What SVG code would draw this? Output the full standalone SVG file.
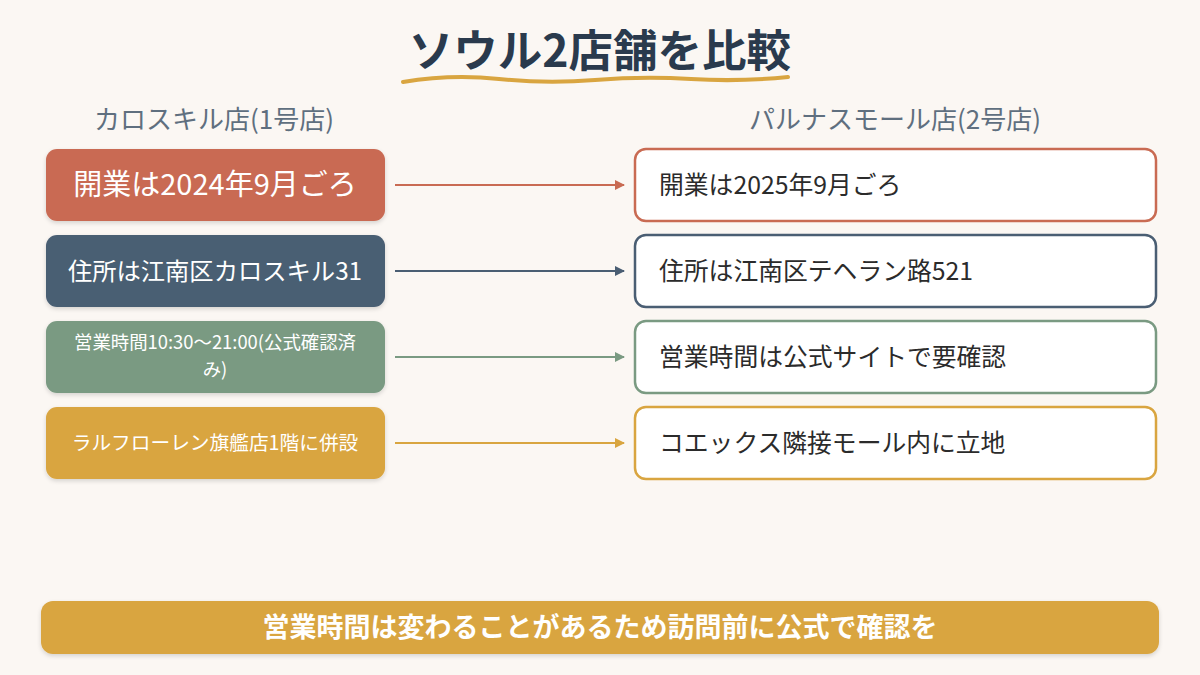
<svg xmlns="http://www.w3.org/2000/svg" width="1200" height="675" viewBox="0 0 1200 675">
<defs>
<style>
text{font-family:"Noto Sans CJK JP","Noto Sans",sans-serif}
.title{font-size:44.5px;font-weight:700;fill:#2a3a4d}
.hdr{font-size:26px;fill:#5f6f7f}
.lt{fill:#fff;text-anchor:middle}
.rt{font-size:24.8px;fill:#2b2b2b}
.rbox{fill:#fff;stroke-width:2.5}
.conn{stroke-width:2.2;fill:none}
</style>
<filter id="sh" x="-10%" y="-20%" width="120%" height="150%">
<feDropShadow dx="0" dy="2" stdDeviation="2" flood-color="#000" flood-opacity="0.15"/>
</filter>
<marker id="a1" viewBox="0 0 10 10" refX="9" refY="5" markerWidth="12" markerHeight="10" orient="auto" markerUnits="userSpaceOnUse"><path d="M0,0L10,5L0,10z" fill="#c96b53"/></marker>
<marker id="a2" viewBox="0 0 10 10" refX="9" refY="5" markerWidth="12" markerHeight="10" orient="auto" markerUnits="userSpaceOnUse"><path d="M0,0L10,5L0,10z" fill="#4a5e73"/></marker>
<marker id="a3" viewBox="0 0 10 10" refX="9" refY="5" markerWidth="12" markerHeight="10" orient="auto" markerUnits="userSpaceOnUse"><path d="M0,0L10,5L0,10z" fill="#7a9a82"/></marker>
<marker id="a4" viewBox="0 0 10 10" refX="9" refY="5" markerWidth="12" markerHeight="10" orient="auto" markerUnits="userSpaceOnUse"><path d="M0,0L10,5L0,10z" fill="#d9a540"/></marker>
</defs>
<rect width="1200" height="675" fill="#fbf7f3"/>
<g id="title">
<text class="title" x="600" y="67" text-anchor="middle">ソウル2店舗を比較</text>
<path d="M403,82 Q451,74 499,79 T595,80 T691,79 T788,77" fill="none" stroke="#d9a540" stroke-width="4" stroke-linecap="round"/>
</g>
<g id="headers">
<text class="hdr" x="214" y="129" text-anchor="middle">カロスキル店(1号店)</text>
<text class="hdr" x="895" y="129" text-anchor="middle">パルナスモール店(2号店)</text>
</g>
<g id="left1"><rect x="46" y="149" width="339" height="72" rx="11" fill="#c96b53" filter="url(#sh)"/><text class="lt" x="215" y="195" font-size="29">開業は2024年9月ごろ</text></g>
<g id="left2"><rect x="46" y="235" width="339" height="72" rx="11" fill="#4a5e73" filter="url(#sh)"/><text class="lt" x="215" y="280" font-size="24.3">住所は江南区カロスキル31</text></g>
<g id="left3"><rect x="46" y="321" width="339" height="72" rx="11" fill="#7a9a82" filter="url(#sh)"/><text class="lt" x="215" y="349" font-size="18.4">営業時間10:30〜21:00(公式確認済</text><text class="lt" x="215" y="376" font-size="18.4">み)</text></g>
<g id="left4"><rect x="46" y="407" width="339" height="72" rx="11" fill="#d9a540" filter="url(#sh)"/><text class="lt" x="215" y="450" font-size="19.7">ラルフローレン旗艦店1階に併設</text></g>
<g id="right1"><rect class="rbox" x="635" y="149" width="521" height="72" rx="11" stroke="#c96b53"/><text class="rt" x="659" y="194">開業は2025年9月ごろ</text></g>
<g id="right2"><rect class="rbox" x="635" y="235" width="521" height="72" rx="11" stroke="#4a5e73"/><text class="rt" x="659" y="280">住所は江南区テヘラン路521</text></g>
<g id="right3"><rect class="rbox" x="635" y="321" width="521" height="72" rx="11" stroke="#7a9a82"/><text class="rt" x="659" y="366">営業時間は公式サイトで要確認</text></g>
<g id="right4"><rect class="rbox" x="635" y="407" width="521" height="72" rx="11" stroke="#d9a540"/><text class="rt" x="659" y="452">コエックス隣接モール内に立地</text></g>
<g id="connectors">
<line class="conn" x1="395" y1="185" x2="624" y2="185" stroke="#c96b53" marker-end="url(#a1)"/>
<line class="conn" x1="395" y1="271" x2="624" y2="271" stroke="#4a5e73" marker-end="url(#a2)"/>
<line class="conn" x1="395" y1="357" x2="624" y2="357" stroke="#7a9a82" marker-end="url(#a3)"/>
<line class="conn" x1="395" y1="443" x2="624" y2="443" stroke="#d9a540" marker-end="url(#a4)"/>
</g>
<g id="footer"><rect x="41" y="601" width="1118" height="53" rx="12" fill="#d9a540" filter="url(#sh)"/><text x="600" y="637" text-anchor="middle" font-size="27" font-weight="700" fill="#fff">営業時間は変わることがあるため訪問前に公式で確認を</text></g>
</svg>
